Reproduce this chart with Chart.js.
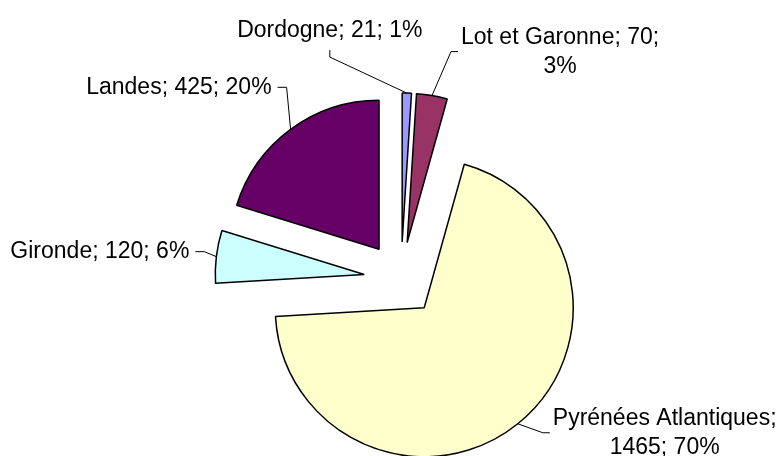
<!DOCTYPE html>
<html>
<head>
<meta charset="utf-8">
<script src="https://cdn.jsdelivr.net/npm/chart.js@4/dist/chart.umd.min.js"></script>
<style>
html,body{margin:0;padding:0;background:#ffffff;}
#wrap{position:relative;width:781px;height:456px;}
</style>
</head>
<body>
<div id="wrap"><canvas id="c" width="781" height="456"></canvas></div>
<script>
// ---- data ----
const categories = ['Dordogne', 'Lot et Garonne', 'Pyrénées Atlantiques', 'Gironde', 'Landes'];
const values = [21, 70, 1465, 120, 425];

// ---- styles ----
const sliceColors = ['#9999FF', '#993366', '#FFFFCC', '#CCFFFF', '#660066'];
const labelLayout = [
  {dx: -77, dy: -36, side: 'top'},
  {dx: 19, dy: -44, side: 'right'},
  {dx: 25, dy: 9, side: 'right'},
  {dx: -12, dy: -5, side: 'left'},
  {dx: -4, dy: -42, side: 'left'}
];

const total = values.reduce((a, b) => a + b, 0);
const labelTexts = categories.map((c, i) => c + '; ' + values[i] + '; ' + Math.round(values[i] / total * 100) + '%');

const explodePlugin = {
  id: 'explode',
  afterDatasetUpdate(chart, args, opts) {
    const meta = chart.getDatasetMeta(args.index);
    meta.data.forEach(arc => {
      const mid = (arc.startAngle + arc.endAngle) / 2;
      arc.x += Math.cos(mid) * opts.distance;
      arc.y += Math.sin(mid) * opts.distance;
    });
  }
};

function wrapText(ctx, text, maxW) {
  const words = text.split(' ');
  const lines = [];
  let cur = '';
  words.forEach(w => {
    const t = cur ? cur + ' ' + w : w;
    if (ctx.measureText(t).width > maxW && cur) { lines.push(cur); cur = w; }
    else cur = t;
  });
  if (cur) lines.push(cur);
  return lines;
}

const leaderLabelPlugin = {
  id: 'leaderLabels',
  afterDatasetsDraw(chart, args, opts) {
    const ctx = chart.ctx;
    const meta = chart.getDatasetMeta(0);
    ctx.save();
    ctx.font = opts.font;
    ctx.fillStyle = '#000';
    ctx.strokeStyle = '#000';
    ctx.lineWidth = 1;
    const capH = opts.size * 0.716;
    const L = opts.lineHeight;
    meta.data.forEach((arc, i) => {
      const lay = labelLayout[i];
      const mid = (arc.startAngle + arc.endAngle) / 2;
      const ex = arc.x + Math.cos(mid) * arc.outerRadius;
      const ey = arc.y + Math.sin(mid) * arc.outerRadius;
      const bx = ex + lay.dx, by = ey + lay.dy;
      const lines = wrapText(ctx, labelTexts[i], opts.maxWidth);
      const blockW = Math.max(...lines.map(l => ctx.measureText(l).width));
      ctx.beginPath();
      ctx.moveTo(ex, ey);
      ctx.lineTo(bx, by);
      if (lay.side === 'top') {
        ctx.lineTo(bx, by - 7);
        ctx.stroke();
        ctx.textAlign = 'center';
        lines.forEach((l, k) => ctx.fillText(l, bx, by - 20 - (lines.length - 1 - k) * L));
      } else if (lay.side === 'right') {
        ctx.lineTo(bx + 7, by);
        ctx.stroke();
        ctx.textAlign = 'center';
        const cx = bx + 10 + blockW / 2;
        lines.forEach((l, k) => ctx.fillText(l, cx, by - (lines.length - 1) * L / 2 + k * L + capH / 2 - 1));
      } else {
        ctx.lineTo(bx - 9, by);
        ctx.stroke();
        ctx.textAlign = 'right';
        lines.forEach((l, k) => ctx.fillText(l, bx - 15, by - (lines.length - 1) * L / 2 + k * L + capH / 2 - 1.5));
      }
    });
    ctx.restore();
  }
};

new Chart(document.getElementById('c'), {
  type: 'pie',
  data: {
    labels: categories,
    datasets: [{
      data: values,
      backgroundColor: sliceColors,
      borderColor: '#000000',
      borderWidth: 1.5,
      radius: 149
    }]
  },
  options: {
    responsive: false,
    maintainAspectRatio: false,
    animation: false,
    events: [],
    layout: {padding: {left: 21, right: 0, top: 102, bottom: 0}},
    plugins: {
      legend: {display: false},
      tooltip: {enabled: false},
      explode: {distance: 37},
      leaderLabels: {font: '23px "Liberation Sans", Arial, sans-serif', size: 23, lineHeight: 29, maxWidth: 230}
    }
  },
  plugins: [explodePlugin, leaderLabelPlugin]
});
</script>
</body>
</html>
